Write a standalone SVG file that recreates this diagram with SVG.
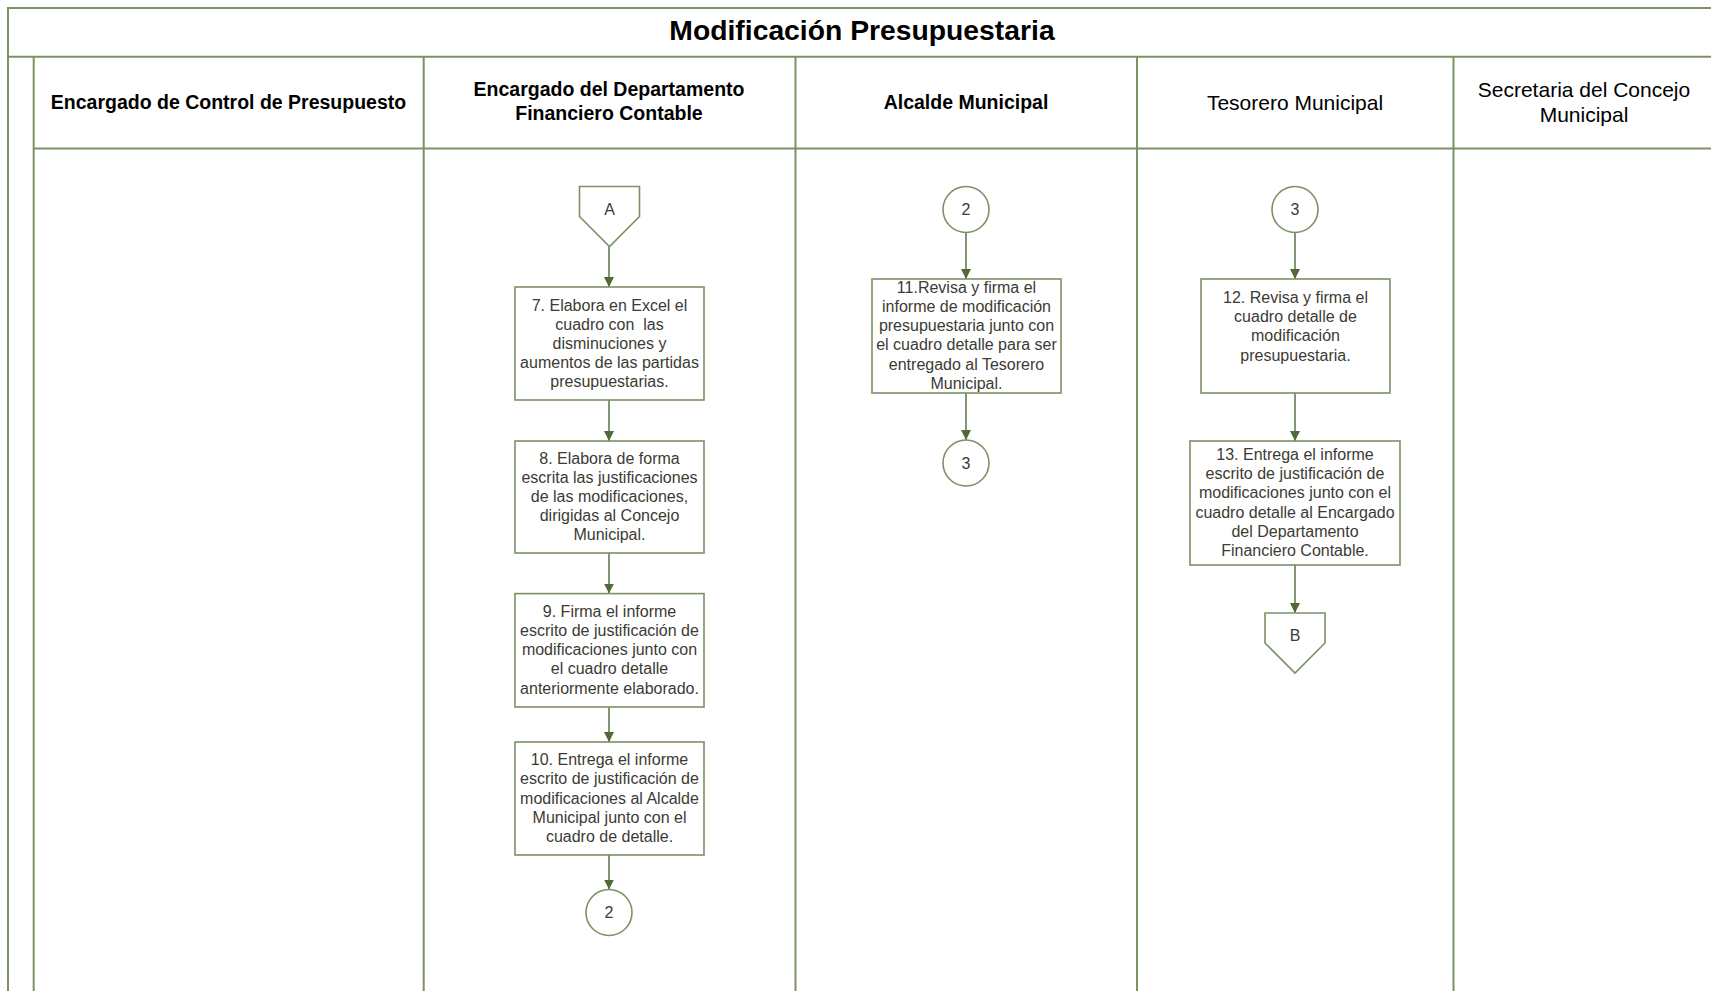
<svg xmlns="http://www.w3.org/2000/svg" width="1711" height="991" viewBox="0 0 1711 991">
<style>
.lane{stroke:#7b9263;stroke-width:2;fill:none}
.box{fill:#ffffff;stroke:#7b9263;stroke-width:1.6}
.conn{stroke:#4f6a38;stroke-width:1.4;fill:none}
.t{font-family:"Liberation Sans",Arial,sans-serif;font-size:16px;fill:#3b3b33;text-anchor:middle}
.hb{font-family:"Liberation Sans",Arial,sans-serif;font-size:19.5px;font-weight:bold;fill:#000;text-anchor:middle}
.hr{font-family:"Liberation Sans",Arial,sans-serif;font-size:21px;fill:#000;text-anchor:middle}
.title{font-family:"Liberation Sans",Arial,sans-serif;font-size:28.3px;font-weight:bold;fill:#000;text-anchor:middle}
</style>
<defs>
<marker id="arr" viewBox="0 0 10 10" refX="10" refY="5" markerWidth="10" markerHeight="10" markerUnits="userSpaceOnUse" orient="auto">
<path d="M0,0 L10,5 L0,10 z" fill="#4f6a38"/>
</marker>
</defs>
<rect width="1711" height="991" fill="#ffffff"/>
<g id="pool">
<path class="lane" d="M8,1000 V8 H1716"/>
<line class="lane" x1="8" y1="56.7" x2="1716" y2="56.7"/>
<line class="lane" x1="33.7" y1="56.7" x2="33.7" y2="1000"/>
<line class="lane" x1="33.7" y1="148.6" x2="1716" y2="148.6"/>
<line class="lane" x1="423.7" y1="56.7" x2="423.7" y2="1000"/>
<line class="lane" x1="795.5" y1="56.7" x2="795.5" y2="1000"/>
<line class="lane" x1="1137" y1="56.7" x2="1137" y2="1000"/>
<line class="lane" x1="1453.5" y1="56.7" x2="1453.5" y2="1000"/>
<text class="title" x="862" y="40">Modificación Presupuestaria</text>
<text class="hb" x="228.5" y="109">Encargado de Control de Presupuesto</text>
<text class="hb" x="609" y="96">Encargado del Departamento</text>
<text class="hb" x="609" y="120">Financiero Contable</text>
<text class="hb" x="966" y="109">Alcalde Municipal</text>
<text class="hr" x="1295" y="110">Tesorero Municipal</text>
<text class="hr" x="1584" y="97">Secretaria del Concejo</text>
<text class="hr" x="1584" y="122">Municipal</text>
</g>
<g id="connectors">
<line class="conn" x1="609" y1="246.5" x2="609" y2="287" marker-end="url(#arr)"/>
<line class="conn" x1="609" y1="400" x2="609" y2="441" marker-end="url(#arr)"/>
<line class="conn" x1="609" y1="553" x2="609" y2="593.6" marker-end="url(#arr)"/>
<line class="conn" x1="609" y1="707" x2="609" y2="742" marker-end="url(#arr)"/>
<line class="conn" x1="609" y1="855" x2="609" y2="889.5" marker-end="url(#arr)"/>
<line class="conn" x1="966" y1="232.5" x2="966" y2="279" marker-end="url(#arr)"/>
<line class="conn" x1="966" y1="393" x2="966" y2="440" marker-end="url(#arr)"/>
<line class="conn" x1="1295" y1="232.5" x2="1295" y2="279" marker-end="url(#arr)"/>
<line class="conn" x1="1295" y1="393" x2="1295" y2="441" marker-end="url(#arr)"/>
<line class="conn" x1="1295" y1="565" x2="1295" y2="613" marker-end="url(#arr)"/>
</g>
<g id="offpage-A">
<path class="box" d="M579.5,186.5 H639.5 V216.5 L609.5,246.5 L579.5,216.5 Z"/>
<text class="t" x="609.5" y="215">A</text>
</g>
<g id="step7">
<rect class="box" x="515" y="287" width="189" height="113"/>
<text class="t" x="609.5" y="311">7. Elabora en Excel el</text>
<text class="t" x="609.5" y="330" xml:space="preserve">cuadro con  las</text>
<text class="t" x="609.5" y="349">disminuciones y</text>
<text class="t" x="609.5" y="368">aumentos de las partidas</text>
<text class="t" x="609.5" y="387">presupuestarias.</text>
</g>
<g id="step8">
<rect class="box" x="515" y="441" width="189" height="112"/>
<text class="t" x="609.5" y="464">8. Elabora de forma</text>
<text class="t" x="609.5" y="483">escrita las justificaciones</text>
<text class="t" x="609.5" y="502">de las modificaciones,</text>
<text class="t" x="609.5" y="521">dirigidas al Concejo</text>
<text class="t" x="609.5" y="540">Municipal.</text>
</g>
<g id="step9">
<rect class="box" x="515" y="593.6" width="189" height="113.4"/>
<text class="t" x="609.5" y="617">9. Firma el informe</text>
<text class="t" x="609.5" y="636">escrito de justificación de</text>
<text class="t" x="609.5" y="655">modificaciones junto con</text>
<text class="t" x="609.5" y="674">el cuadro detalle</text>
<text class="t" x="609.5" y="694">anteriormente elaborado.</text>
</g>
<g id="step10">
<rect class="box" x="515" y="742" width="189" height="113"/>
<text class="t" x="609.5" y="765">10. Entrega el informe</text>
<text class="t" x="609.5" y="784">escrito de justificación de</text>
<text class="t" x="609.5" y="804">modificaciones al Alcalde</text>
<text class="t" x="609.5" y="823">Municipal junto con el</text>
<text class="t" x="609.5" y="842">cuadro de detalle.</text>
</g>
<g id="connector2-out">
<circle class="box" cx="609" cy="912.5" r="23"/>
<text class="t" x="609" y="918">2</text>
</g>
<g id="connector2-in">
<circle class="box" cx="966" cy="209.5" r="23"/>
<text class="t" x="966" y="215">2</text>
</g>
<g id="step11">
<rect class="box" x="872" y="279" width="189" height="114"/>
<text class="t" x="966.5" y="293">11.Revisa y firma el</text>
<text class="t" x="966.5" y="312">informe de modificación</text>
<text class="t" x="966.5" y="331">presupuestaria junto con</text>
<text class="t" x="966.5" y="350">el cuadro detalle para ser</text>
<text class="t" x="966.5" y="370">entregado al Tesorero</text>
<text class="t" x="966.5" y="389">Municipal.</text>
</g>
<g id="connector3-out">
<circle class="box" cx="966" cy="463" r="23"/>
<text class="t" x="966" y="468.5">3</text>
</g>
<g id="connector3-in">
<circle class="box" cx="1295" cy="209.5" r="23"/>
<text class="t" x="1295" y="215">3</text>
</g>
<g id="step12">
<rect class="box" x="1201" y="279" width="189" height="114"/>
<text class="t" x="1295.5" y="303">12. Revisa y firma el</text>
<text class="t" x="1295.5" y="322">cuadro detalle de</text>
<text class="t" x="1295.5" y="341">modificación</text>
<text class="t" x="1295.5" y="361">presupuestaria.</text>
</g>
<g id="step13">
<rect class="box" x="1190" y="441" width="210" height="124"/>
<text class="t" x="1295" y="460">13. Entrega el informe</text>
<text class="t" x="1295" y="479">escrito de justificación de</text>
<text class="t" x="1295" y="498">modificaciones junto con el</text>
<text class="t" x="1295" y="518">cuadro detalle al Encargado</text>
<text class="t" x="1295" y="537">del Departamento</text>
<text class="t" x="1295" y="556">Financiero Contable.</text>
</g>
<g id="offpage-B">
<path class="box" d="M1265,613 H1325 V643 L1295,673 L1265,643 Z"/>
<text class="t" x="1295" y="641">B</text>
</g>
</svg>
